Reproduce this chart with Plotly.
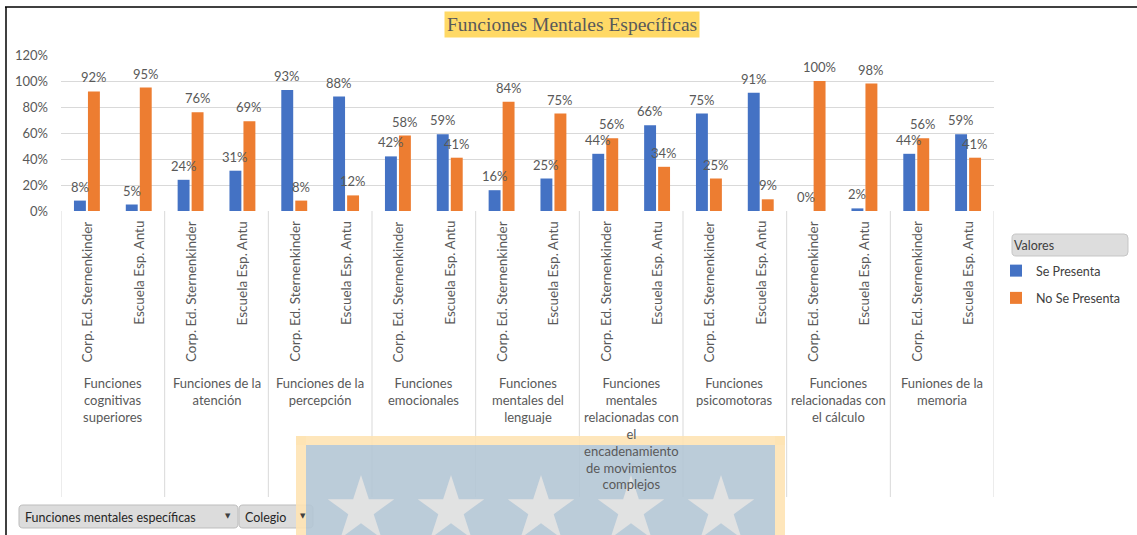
import math
import plotly.graph_objects as go

# ---------------- data ----------------
groups = [
    "Funciones<br>cognitivas<br>superiores",
    "Funciones de la<br>atención",
    "Funciones de la<br>percepción",
    "Funciones<br>emocionales",
    "Funciones<br>mentales del<br>lenguaje",
    "Funciones<br>mentales<br>relacionadas con<br>el<br>encadenamiento<br>de movimientos<br>complejos",
    "Funciones<br>psicomotoras",
    "Funciones<br>relacionadas con<br>el cálculo",
    "Funiones de la<br>memoria",
]
schools = ["Corp. Ed. Sternenkinder", "Escuela Esp. Antu"]
se_presenta = [8, 5, 24, 31, 93, 88, 42, 59, 16, 25, 44, 66, 75, 91, 0, 2, 44, 59]
no_se_presenta = [92, 95, 76, 69, 8, 12, 58, 41, 84, 75, 56, 34, 25, 9, 100, 98, 56, 41]
y_ticks = [0, 20, 40, 60, 80, 100, 120]
series_names = ["Se Presenta", "No Se Presenta"]
series_colors = ["#4472C4", "#ED7D31"]

# ---------------- layout helpers ----------------
W, H = 1137, 535
L, R, T, B = 61, 143, 55, 324
PW, PH = W - L - R, H - T - B
FONT = "Lato"
GREY = "#595959"
BAR_W = 0.23
OFFSETS = [-0.25, 0.02]


def px(x):
    return (x - L) / PW


def py(y):
    return (H - B - y) / PH


def rounded_rect(x0, y0, x1, y1, r):
    """SVG path (paper coords) of a rounded rectangle given in pixels."""
    pts = [
        ("M", x0 + r, y0), ("L", x1 - r, y0), ("Q", x1, y0, x1, y0 + r),
        ("L", x1, y1 - r), ("Q", x1, y1, x1 - r, y1), ("L", x0 + r, y1),
        ("Q", x0, y1, x0, y1 - r), ("L", x0, y0 + r), ("Q", x0, y0, x0 + r, y0),
    ]
    out = []
    for p in pts:
        cmd, coords = p[0], p[1:]
        conv = []
        for j in range(0, len(coords), 2):
            conv.append(f"{px(coords[j]):.5f},{py(coords[j + 1]):.5f}")
        out.append(cmd + " " + " ".join(conv))
    return " ".join(out) + " Z"


idx = list(range(len(se_presenta)))

fig = go.Figure()
shapes = []
annotations = []

for name, vals, color, off, grp in zip(series_names, [se_presenta, no_se_presenta],
                                         series_colors, OFFSETS, ["a", "b"]):
    fig.add_trace(go.Bar(
        x=idx, y=vals, name=name, legendgroup=grp,
        marker=dict(color=color, line=dict(width=0)),
        width=BAR_W, offset=off,
    ))
    # data labels above each bar
    for i, v in zip(idx, vals):
        annotations.append(dict(x=i + off + BAR_W / 2, y=v, xref="x", yref="y",
                                text=f"{v}%", showarrow=False,
                                xanchor="center", yanchor="bottom", yshift=4,
                                font=dict(family=FONT, size=13, color=GREY)))

# group separators on the category axis
for k in range(len(groups) + 1):
    shapes.append(dict(type="line", xref="x", yref="paper",
                       x0=2 * k - 0.5, x1=2 * k - 0.5, y0=0, y1=py(497),
                       line=dict(color="#D9D9D9", width=1)))

# school labels (rotated)
for i in idx:
    annotations.append(dict(x=i, y=py(219), xref="x", yref="paper",
                            text=schools[i % 2], textangle=-90,
                            xanchor="center", yanchor="top", showarrow=False,
                            font=dict(family=FONT, size=13.5, color=GREY)))

# group labels
for g, name in enumerate(groups):
    annotations.append(dict(x=2 * g + 0.5, y=py(373), xref="x", yref="paper",
                            text=name, xanchor="center", yanchor="top",
                            showarrow=False, align="center",
                            font=dict(family=FONT, size=13, color=GREY)))

# title
annotations.append(dict(x=px(572), y=py(24), xref="paper", yref="paper",
                        text="Funciones Mentales Específicas", showarrow=False,
                        xanchor="center", yanchor="middle",
                        bgcolor="#FFD966", borderpad=2,
                        font=dict(family="'Liberation Serif', 'Times New Roman', serif",
                                  size=19.5, color="#595959")))

# outer border
shapes.append(dict(type="line", xref="paper", yref="paper", x0=px(5), x1=px(1140),
                   y0=py(7), y1=py(7), line=dict(color="#404040", width=2)))
shapes.append(dict(type="line", xref="paper", yref="paper", x0=px(6), x1=px(6),
                   y0=py(7), y1=py(540), line=dict(color="#000000", width=1.5)))

# legend header ("Valores" field button)
shapes.append(dict(type="path", xref="paper", yref="paper",
                   path=rounded_rect(1012, 234, 1128, 256, 4), fillcolor="#DDDDDD",
                   line=dict(color="#C6C6C6", width=1), layer="below"))
annotations.append(dict(x=px(1012), y=py(245), xref="paper", yref="paper",
                        text="Valores", xanchor="left", yanchor="middle", showarrow=False,
                        font=dict(family=FONT, size=12.5, color="#404040")))

# pivot field buttons
buttons = [("Funciones mentales específicas", 19, 238), ("Colegio", 239, 313)]
for label, x0, x1 in buttons:
    shapes.append(dict(type="path", xref="paper", yref="paper",
                       path=rounded_rect(x0, 505, x1, 528, 4), fillcolor="#DCDCDC",
                       line=dict(color="#BDBDBD", width=1)))
    annotations.append(dict(x=px(x0 + 4), y=py(517), xref="paper", yref="paper",
                            text=label, xanchor="left", yanchor="middle", showarrow=False,
                            font=dict(family=FONT, size=12.5, color="#262626")))
    annotations.append(dict(x=px(x1 - 10), y=py(516), xref="paper", yref="paper",
                            text="▼", xanchor="center", yanchor="middle", showarrow=False,
                            font=dict(family="DejaVu Sans", size=7, color="#404040")))

# watermark (frame, panel, stars)
wm_op = 0.9
for (a, b, c, d) in [(296, 306, 436, 540), (775, 785, 436, 540), (296, 785, 436, 445)]:
    shapes.append(dict(type="rect", xref="paper", yref="paper", x0=px(a), x1=px(b),
                       y0=py(c), y1=py(d), fillcolor="#FEE3B4", line=dict(width=0),
                       opacity=wm_op))
shapes.append(dict(type="rect", xref="paper", yref="paper", x0=px(306), x1=px(775),
                   y0=py(445), y1=py(540), fillcolor="#B4C6D5", line=dict(width=0),
                   opacity=wm_op))


def star_path(cx, cy, r_out):
    r_in = r_out * 0.382
    pts = []
    for k in range(10):
        ang = -math.pi / 2 + k * math.pi / 5
        r = r_out if k % 2 == 0 else r_in
        pts.append((px(cx + r * math.cos(ang)), py(cy + r * math.sin(ang))))
    return "M " + " L ".join(f"{a:.5f},{b:.5f}" for a, b in pts) + " Z"


for cx in [361, 451, 541, 631, 721]:
    shapes.append(dict(type="path", xref="paper", yref="paper", path=star_path(cx, 510, 35),
                       fillcolor="#E3E3E3", line=dict(width=0), opacity=0.95))

fig.update_layout(
    width=W, height=H,
    margin=dict(l=L, r=R, t=T, b=B, pad=0, autoexpand=False),
    paper_bgcolor="white", plot_bgcolor="white",
    barmode="overlay",
    font=dict(family=FONT, size=13, color=GREY),
    xaxis=dict(range=[-0.5, len(idx) - 0.5], showticklabels=False, showgrid=False,
               zeroline=False, showline=False, ticks="", fixedrange=True),
    yaxis=dict(range=[0, 120], tickvals=y_ticks, ticktext=[f"{v}%" for v in y_ticks],
               showgrid=True, gridcolor="#D9D9D9", gridwidth=1, zeroline=False,
               showline=False, ticks="", ticklabelstandoff=12, fixedrange=True,
               tickfont=dict(family=FONT, size=13, color=GREY)),
    showlegend=True,
    legend=dict(xref="container", yref="container", x=996 / W, y=1 - 256 / H,
                xanchor="left", yanchor="top",
                bgcolor="rgba(0,0,0,0)", tracegroupgap=8, itemwidth=30,
                font=dict(family=FONT, size=12.5, color="#404040")),
    shapes=shapes,
    annotations=annotations,
)

fig.write_html(
    "out.html",
    config={"displayModeBar": False},
    post_script="document.body.style.margin='0';document.body.style.overflow='hidden';",
)
